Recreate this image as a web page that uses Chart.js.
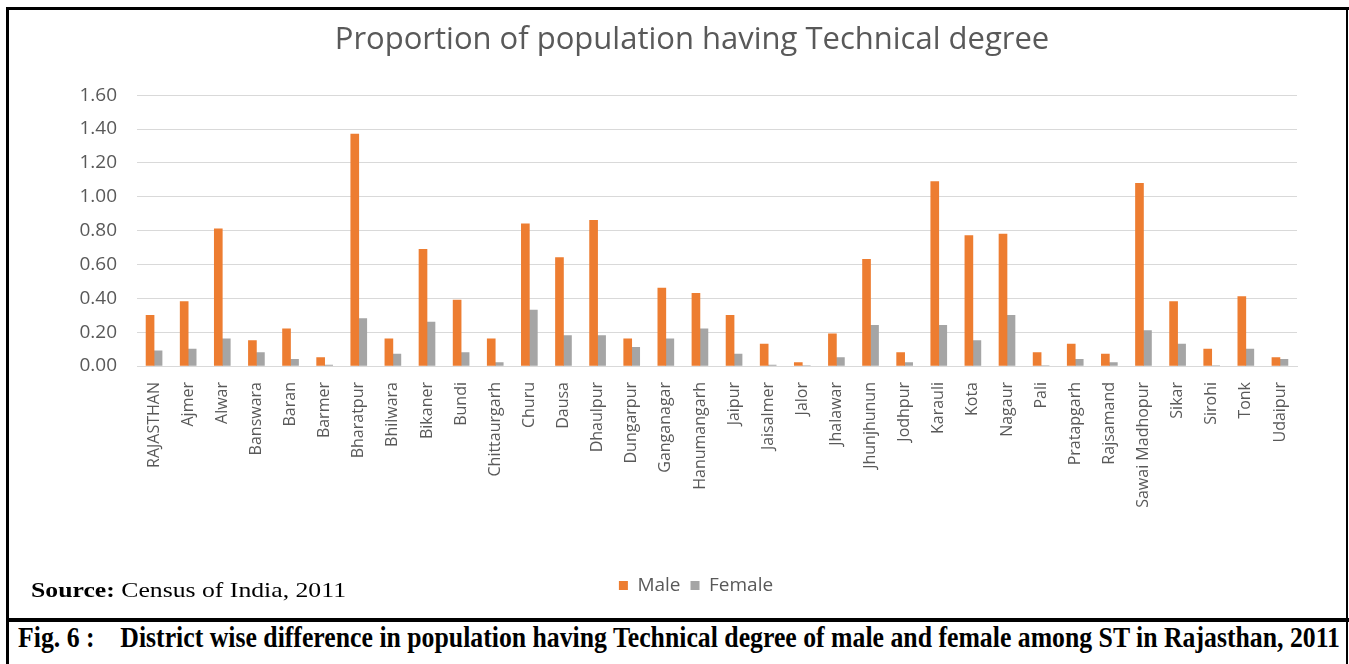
<!DOCTYPE html>
<html>
<head>
<meta charset="utf-8">
<script src="https://cdn.jsdelivr.net/npm/chart.js@4/dist/chart.umd.min.js"></script>
<style>
  body { margin: 0; background: #fff; }
  .rule { position: absolute; background: #000; }
  #chartBox { position: absolute; left: 9px; top: 10px; width: 1337px; height: 608px; }
  .serif { position: absolute; font-family: "Liberation Serif", "DejaVu Serif", serif; color: #000; white-space: nowrap; transform-origin: 0 0; }
  #source { left: 31px; top: 579px; font-size: 22px; line-height: 22px; }
  #caption { left: 18px; top: 623px; font-size: 29px; line-height: 29px; font-weight: bold; }
</style>
</head>
<body>
<!-- frame around the figure -->
<div class="rule" style="left:6px;top:7px;width:1343px;height:3px"></div>
<div class="rule" style="left:6px;top:7px;width:3px;height:657px"></div>
<div class="rule" style="left:1346px;top:7px;width:2px;height:657px"></div>
<div class="rule" style="left:6px;top:618px;width:1343px;height:4px"></div>

<div id="chartBox"><canvas id="chartTech" width="1337" height="608"></canvas></div>
<div id="source" class="serif"><b>Source:</b> Census of India, 2011</div>
<div id="caption" class="serif">Fig. 6 :&nbsp;&nbsp;&nbsp; District wise difference in population having Technical degree of male and female among ST in Rajasthan, 2011</div>

<script>
const districts = ['RAJASTHAN', 'Ajmer', 'Alwar', 'Banswara', 'Baran', 'Barmer', 'Bharatpur', 'Bhilwara',
  'Bikaner', 'Bundi', 'Chittaurgarh', 'Churu', 'Dausa', 'Dhaulpur', 'Dungarpur', 'Ganganagar',
  'Hanumangarh', 'Jaipur', 'Jaisalmer', 'Jalor', 'Jhalawar', 'Jhunjhunun', 'Jodhpur', 'Karauli',
  'Kota', 'Nagaur', 'Pali', 'Pratapgarh', 'Rajsamand', 'Sawai Madhopur', 'Sikar', 'Sirohi', 'Tonk', 'Udaipur'];

const maleValues = [0.30, 0.38, 0.81, 0.15, 0.22, 0.05, 1.37, 0.16, 0.69, 0.39, 0.16, 0.84, 0.64, 0.86,
  0.16, 0.46, 0.43, 0.30, 0.13, 0.02, 0.19, 0.63, 0.08, 1.09, 0.77, 0.78, 0.08, 0.13, 0.07, 1.08,
  0.38, 0.10, 0.41, 0.05];

const femaleValues = [0.09, 0.10, 0.16, 0.08, 0.04, 0.005, 0.28, 0.07, 0.26, 0.08, 0.02, 0.33, 0.18, 0.18,
  0.11, 0.16, 0.22, 0.07, 0.005, 0.003, 0.05, 0.24, 0.02, 0.24, 0.15, 0.30, 0.003, 0.04, 0.02, 0.21,
  0.13, 0.003, 0.10, 0.04];

const yTicks = [0, 0.2, 0.4, 0.6, 0.8, 1.0, 1.2, 1.4, 1.6];

const textGrey = '#595959';
const chartFont = '"Open Sans", "Noto Sans", sans-serif';

// title and legend are centred over the plot, not the whole canvas
const boxShift = {
  id: 'boxShift',
  afterLayout(chart) {
    chart.legend.left += 38;
    chart.legend.right += 38;
    chart.titleBlock.left += 34;
    chart.titleBlock.right += 34;
  }
};

new Chart(document.getElementById('chartTech'), {
  type: 'bar',
  data: {
    labels: districts,
    datasets: [
      { label: 'Male', data: maleValues, backgroundColor: '#ED7D31', barThickness: 8 },
      { label: 'Female', data: femaleValues, backgroundColor: '#A5A5A5', barThickness: 8 }
    ]
  },
  options: {
    responsive: false,
    animation: false,
    layout: { padding: { left: 10, right: 49, top: 6, bottom: 13 } },
    datasets: { bar: { categoryPercentage: 0.56, barPercentage: 0.85 } },
    plugins: {
      title: {
        display: true,
        text: 'Proportion of population having Technical degree',
        color: textGrey,
        font: { family: chartFont, size: 31, weight: 'normal' },
        padding: { top: 6, bottom: 36 }
      },
      legend: {
        position: 'bottom',
        labels: {
          color: textGrey,
          font: { family: chartFont, size: 19 },
          boxWidth: 9,
          boxHeight: 9,
          padding: 10
        }
      },
      tooltip: { enabled: false }
    },
    scales: {
      x: {
        grid: { display: false },
        border: { color: '#D9D9D9', width: 1 },
        ticks: {
          color: textGrey,
          font: { family: chartFont, size: 16 },
          minRotation: 90,
          maxRotation: 90,
          autoSkip: false,
          padding: 8
        },
        afterFit(scale) { scale.height = 200; }
      },
      y: {
        min: 0,
        max: 1.6,
        afterBuildTicks(scale) { scale.ticks = yTicks.map(v => ({ value: v })); },
        grid: { color: '#D9D9D9', lineWidth: 1, drawTicks: false },
        border: { display: false },
        ticks: {
          color: textGrey,
          font: { family: chartFont, size: 19 },
          padding: 20,
          callback: v => Number(v).toFixed(2)
        },
        afterFit(scale) { scale.width = 118; }
      }
    }
  },
  plugins: [boxShift]
});

// squeeze the serif lines to the widths used in the printed figure
function fitWidth(id, target) {
  const el = document.getElementById(id);
  const w = el.getBoundingClientRect().width;
  el.style.transform = 'scaleX(' + (target / w) + ')';
}
fitWidth('source', 315);
fitWidth('caption', 1322);
</script>
</body>
</html>
